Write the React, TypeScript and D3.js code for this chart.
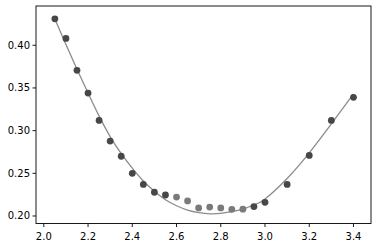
import React from "react";
import * as d3 from "d3";

const xValues = [2.05, 2.1, 2.15, 2.2, 2.25, 2.3, 2.35, 2.4, 2.45, 2.5, 2.55, 2.6, 2.65, 2.7, 2.75, 2.8, 2.85, 2.9, 2.95, 3.0, 3.1, 3.2, 3.3, 3.4];
const yValues = [0.431, 0.408, 0.3706, 0.344, 0.312, 0.2878, 0.27, 0.25, 0.237, 0.2278, 0.2246, 0.2222, 0.2176, 0.2094, 0.2105, 0.2094, 0.2078, 0.208, 0.211, 0.216, 0.237, 0.271, 0.312, 0.339];
// 1 = lighter marker
const lightFlags = [0, 0, 0, 0, 0, 0, 0, 0, 0, 0, 0, 1, 1, 1, 1, 1, 1, 1, 0, 0, 0, 0, 0, 0];

const curveX = [2.05, 2.1, 2.15, 2.2, 2.25, 2.3, 2.35, 2.4, 2.45, 2.5, 2.55, 2.6, 2.65, 2.7, 2.75, 2.8, 2.85, 2.9, 2.95, 3.0, 3.1, 3.2, 3.3, 3.4];
const curveY = [0.431, 0.401, 0.372, 0.344, 0.317, 0.293, 0.273, 0.256, 0.241, 0.229, 0.219, 0.212, 0.207, 0.204, 0.2025, 0.203, 0.205, 0.208, 0.213, 0.22, 0.244, 0.274, 0.308, 0.343];

const xTicks = [2.0, 2.2, 2.4, 2.6, 2.8, 3.0, 3.2, 3.4];
const yTicks = [0.2, 0.25, 0.3, 0.35, 0.4];

const W = 378;
const H = 248;
const L = 36, R = 371, T = 6, B = 223.5;

export default function App() {
  const x = d3.scaleLinear().domain([1.9647, 3.4792]).range([L, R]);
  const y = d3.scaleLinear().domain([0.1912, 0.446]).range([B, T]);
  const line = d3
    .line<number>()
    .x((_, i) => x(curveX[i]))
    .y((d) => y(d))
    .curve(d3.curveNatural);
  const font = "DejaVu Sans, sans-serif";
  return (
    <svg
      width={W}
      height={H}
      style={{ position: "fixed", left: 0, top: 0, background: "#fff" }}
      fontFamily={font}
    >
      <rect x={0} y={0} width={W} height={H} fill="#fff" />
      <path d={line(curveY) || ""} fill="none" stroke="#8c8c8c" strokeWidth={1.3} />
      {xValues.map((xv, i) => (
        <circle
          key={i}
          cx={x(xv)}
          cy={y(yValues[i])}
          r={3.4}
          fill={lightFlags[i] ? "#7a7a7a" : "#474747"}
        />
      ))}
      <rect x={L} y={T} width={R - L} height={B - T} fill="none" stroke="#000" strokeWidth={0.9} />
      {xTicks.map((t) => (
        <g key={t} transform={`translate(${x(t)},${B})`}>
          <line y1={0} y2={3.5} stroke="#000" strokeWidth={0.9} />
          <text y={16.5} textAnchor="middle" fontSize={10} fill="#000">
            {t.toFixed(1)}
          </text>
        </g>
      ))}
      {yTicks.map((t) => (
        <g key={t} transform={`translate(${L},${y(t)})`}>
          <line x1={0} x2={-3.5} stroke="#000" strokeWidth={0.9} />
          <text x={-6} dy="0.35em" textAnchor="end" fontSize={10} fill="#000">
            {t.toFixed(2)}
          </text>
        </g>
      ))}
    </svg>
  );
}
